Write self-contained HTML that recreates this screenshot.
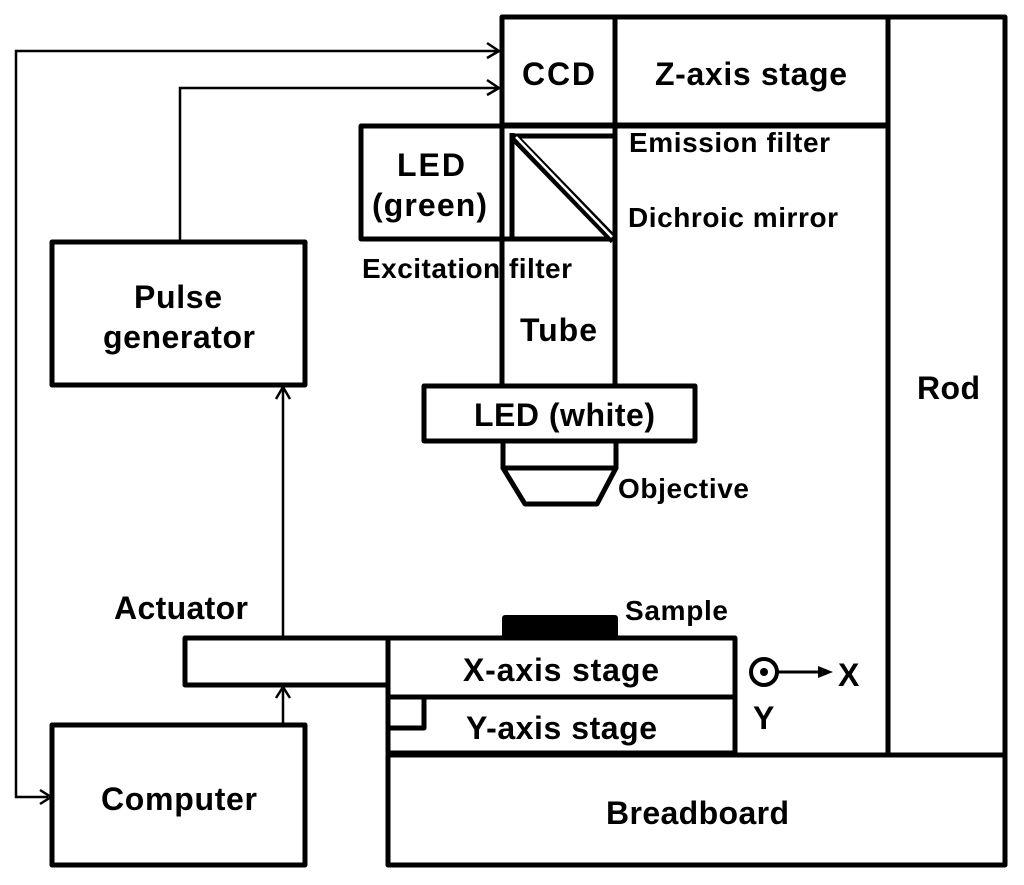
<!DOCTYPE html>
<html><head><style>body{margin:0;background:#fff}svg{display:block}text{font-family:"Liberation Sans",Arial,sans-serif;font-weight:bold;fill:#000}</style></head>
<body>
<svg width="1024" height="885" viewBox="0 0 1024 885" xmlns="http://www.w3.org/2000/svg">
<g fill="none" stroke="#000" stroke-width="5" stroke-linejoin="round">
<rect x="502" y="17" width="113" height="108"/>
<rect x="615" y="17" width="273" height="108"/>
<rect x="888" y="17" width="117" height="738"/>
<rect x="388" y="755" width="617" height="110"/>
<line x1="502" y1="125" x2="502" y2="386"/>
<line x1="615" y1="125" x2="615" y2="386"/>
<rect x="361" y="126" width="141" height="113"/>
<line x1="502" y1="239" x2="615" y2="239"/>
<line x1="502" y1="126" x2="888" y2="126"/>
<line x1="512" y1="136" x2="615" y2="136"/>
<line x1="512" y1="133" x2="512" y2="239"/>
<rect x="424" y="386" width="271" height="55"/>
<polyline points="503,441 503,468 616,468 616,441"/>
<polygon points="503,468 616,468 597,504 525,504"/>
<rect x="388" y="638" width="347" height="59"/>
<rect x="388" y="697" width="347" height="56"/>
<polyline points="388,728 424,728 424,697"/>
<rect x="185" y="638" width="203" height="47"/>
<rect x="52" y="242" width="253" height="143"/>
<rect x="52" y="725" width="253" height="140"/>
<circle cx="764" cy="672" r="13" stroke-width="4"/>
</g>
<line x1="514" y1="137" x2="614" y2="240" stroke="#000" stroke-width="9"/>
<line x1="516" y1="137" x2="612" y2="237" stroke="#fff" stroke-width="2.5"/>
<rect x="502" y="615" width="116" height="23" rx="3" fill="#000"/>
<circle cx="764" cy="672" r="4" fill="#000"/>
<line x1="777" y1="672" x2="822" y2="672" stroke="#000" stroke-width="3"/>
<polygon points="833,672 818,666 818,678" fill="#000"/>
<g stroke="#000" stroke-width="2.5" fill="none">
<polyline points="498,51 16,51 16,797 48,797"/>
<polyline points="498,88 180,88 180,242"/>
<line x1="283" y1="638" x2="283" y2="388"/>
<line x1="283" y1="725" x2="283" y2="688"/>
<polyline points="487,43 499,51 487,58"/>
<polyline points="487,80 499,88 487,95"/>
<polyline points="40,790 51,797 40,804"/>
<polyline points="276,399 283,387 290,399"/>
<polyline points="276,698 283,687 290,698"/>
</g>
<g font-size="32" lengthAdjust="spacingAndGlyphs">
<text x="522" y="85" textLength="73">CCD</text>
<text x="655" y="85" textLength="192">Z-axis stage</text>
<text x="397" y="176" textLength="68">LED</text>
<text x="372" y="216" textLength="115">(green)</text>
<text x="520" y="341" textLength="77">Tube</text>
<text x="474" y="426" textLength="181">LED (white)</text>
<text x="917" y="399" textLength="63">Rod</text>
<text x="134" y="308" textLength="88">Pulse</text>
<text x="103" y="348" textLength="152">generator</text>
<text x="101" y="810" textLength="156">Computer</text>
<text x="606" y="824" textLength="183">Breadboard</text>
<text x="463" y="681" textLength="196">X-axis stage</text>
<text x="466" y="739" textLength="191">Y-axis stage</text>
<text x="114" y="619" textLength="134">Actuator</text>
<text x="838" y="686" textLength="22">X</text>
<text x="753" y="729" textLength="24">Y</text>
</g>
<g font-size="28" lengthAdjust="spacingAndGlyphs">
<text x="629" y="152" textLength="201">Emission filter</text>
<text x="628" y="227" textLength="210">Dichroic mirror</text>
<text x="362" y="278" textLength="210">Excitation filter</text>
<text x="618" y="498" textLength="131">Objective</text>
<text x="625" y="620" textLength="103">Sample</text>
</g>
</svg>
</body></html>
